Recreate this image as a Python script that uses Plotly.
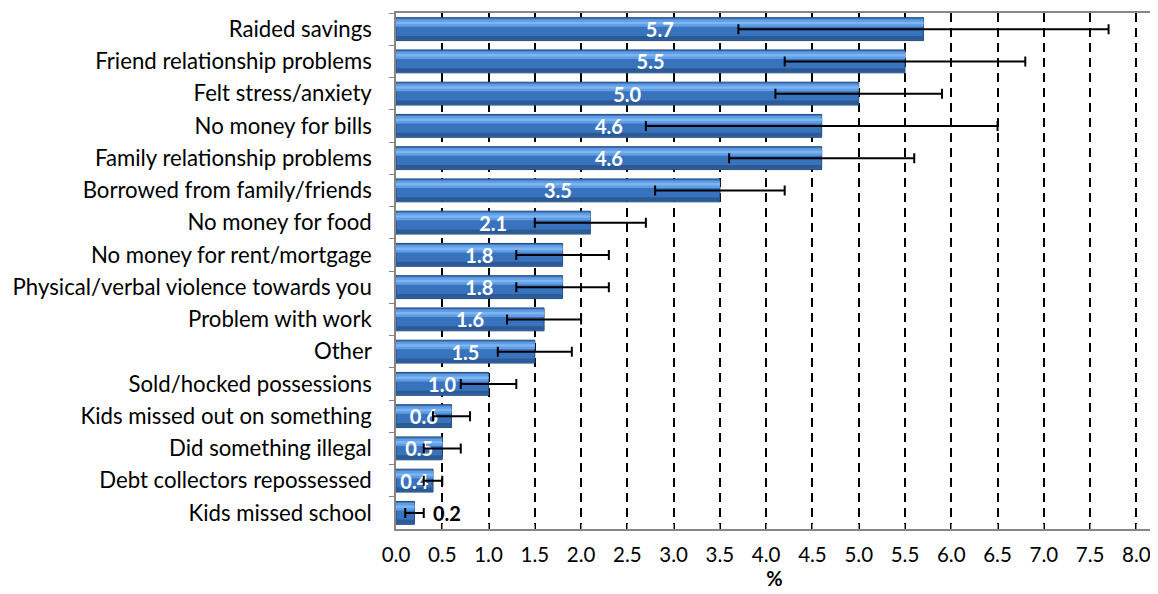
import plotly.graph_objects as go

categories = [
    "Raided savings", "Friend relationship problems", "Felt stress/anxiety",
    "No money for bills", "Family relationship problems", "Borrowed from family/friends",
    "No money for food", "No money for rent/mortgage", "Physical/verbal violence towards you",
    "Problem with work", "Other", "Sold/hocked possessions", "Kids missed out on something",
    "Did something illegal", "Debt collectors repossessed", "Kids missed school",
]
values = [5.7, 5.5, 5.0, 4.6, 4.6, 3.5, 2.1, 1.8, 1.8, 1.6, 1.5, 1.0, 0.6, 0.5, 0.4, 0.2]
err_low = [3.7, 4.2, 4.1, 2.7, 3.6, 2.8, 1.5, 1.3, 1.3, 1.2, 1.1, 0.7, 0.4, 0.3, 0.3, 0.1]
err_high = [7.7, 6.8, 5.9, 6.5, 5.6, 4.2, 2.7, 2.3, 2.3, 2.0, 1.9, 1.3, 0.8, 0.7, 0.5, 0.3]
x_ticks = [i * 0.5 for i in range(17)]

FONT = "Lato"
labels = [f"{v:.1f}" for v in values]
inside_text = [t if v >= 0.3 else "" for t, v in zip(labels, values)]

fig = go.Figure()
# base bar
fig.add_trace(go.Bar(y=categories, x=values, orientation="h", width=0.71,
                     marker=dict(color="#3a73bd", line=dict(color="#244d82", width=1)),
                     hoverinfo="skip"))
# bevel highlight bands (upper part)
fig.add_trace(go.Bar(y=categories, x=values, orientation="h", width=0.24, offset=-0.31,
                     marker=dict(color="#609de3", line=dict(width=0)), hoverinfo="skip"))
fig.add_trace(go.Bar(y=categories, x=values, orientation="h", width=0.08, offset=-0.23,
                     marker=dict(color="#7db5f2", line=dict(width=0)), hoverinfo="skip"))
# darker bottom band
fig.add_trace(go.Bar(y=categories, x=values, orientation="h", width=0.12, offset=0.21,
                     marker=dict(color="#2c5a94", line=dict(width=0)), hoverinfo="skip"))
# transparent top layer carrying labels and error bars
fig.add_trace(go.Bar(
    y=categories, x=values, orientation="h", width=0.71,
    marker=dict(color="rgba(0,0,0,0)", line=dict(width=0)),
    text=inside_text, textposition="inside", insidetextanchor="middle",
    insidetextfont=dict(color="white", size=20, family=FONT, weight="bold"),
    error_x=dict(type="data", symmetric=False,
                 array=[h - v for h, v in zip(err_high, values)],
                 arrayminus=[v - l for v, l in zip(values, err_low)],
                 color="black", thickness=2, width=5),
    cliponaxis=False,
))

# outside label for the smallest bar
for c, v, h, t in zip(categories, values, err_high, labels):
    if v < 0.3:
        fig.add_annotation(x=h, y=c, text=f"<b>{t}</b>", showarrow=False,
                           xanchor="left", xshift=7,
                           font=dict(size=20, family=FONT, color="black"))

# the page body adds an 8px margin, so the figure is sized/margined to compensate
fig.update_layout(
    width=1150, height=586,
    margin=dict(l=388, r=5, t=5, b=65),
    barmode="overlay", showlegend=False,
    plot_bgcolor="white", paper_bgcolor="white",
    font=dict(family=FONT, size=22.2, color="black"),
    uniformtext=dict(minsize=20, mode="show"),
)
fig.update_xaxes(
    range=[0, 8.18], tickvals=x_ticks, ticktext=[f"{t:.1f}" for t in x_ticks],
    showgrid=True, gridcolor="black", gridwidth=1.6, griddash="9px,6px",
    showline=True, linecolor="#868686", linewidth=1.5, mirror=True,
    ticks="inside", ticklen=5, tickcolor="#868686",
    tickfont=dict(size=20.5, family=FONT), ticklabelstandoff=7,
    title=dict(text="<b>%</b>", font=dict(size=20, family=FONT), standoff=5),
    zeroline=False, automargin=False,
)
fig.update_yaxes(
    categoryorder="array", categoryarray=categories, autorange="reversed",
    showline=True, linecolor="#868686", linewidth=1.5, mirror=True,
    ticks="outside", ticklen=5, tickcolor="#868686", tickson="boundaries",
    tickfont=dict(size=22.2, family=FONT), ticklabelstandoff=18,
    showgrid=False, automargin=False,
)

fig.write_html("out.html")
